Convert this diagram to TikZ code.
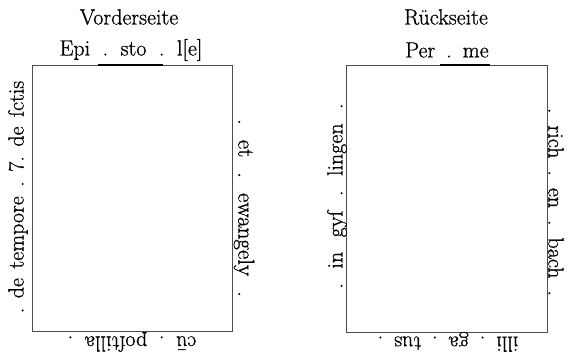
\documentclass[tikz,border=0pt]{standalone}
\usepackage{fontspec}
\setmainfont{Latin Modern Roman}[FakeBold=0.8]
\newcommand\gp[1]{\hspace{#1pt}}
\begin{document}
\begin{tikzpicture}[x=1pt,y=-1pt,
  lbl/.style={inner sep=0pt, font=\fontsize{22}{26}\selectfont},
  page/.style={draw=black!70, line width=0.6pt},
  ink/.style={draw=black, line width=1.1pt}]
\useasboundingbox (0,0) rectangle (574,356);
% boxes
\node[page, minimum width=200pt, minimum height=266pt, inner sep=0pt] (front) at (132,198) {};
\node[page, minimum width=201pt, minimum height=267pt, inner sep=0pt] (back) at (446.5,198.5) {};
% darker strokes on top edges
\coordinate (fa) at (98,65); \coordinate (fb) at (163,65);
\coordinate (ba) at (440,65); \coordinate (bb) at (490,65);
\draw[ink] (fa) -- (fb);
\draw[ink] (ba) -- (bb);
% headings
\node[lbl] (vs) at (129,17) {Vorderseite};
\node[lbl] (rs) at (446,17) {Rückseite};
\node[lbl] (ftop) at (131,50) {Epi\gp{12.5}.\gp{12.5}sto\gp{12.5}.\gp{12.5}l[e]};
\node[lbl] (btop) at (447,50) {Per\gp{11}.\gp{11}me};
% front sides
\node[lbl, rotate=90] (fleft) at (18,197) {.\gp{9.5}de\gp{9.5}tempore\gp{9.5}.\gp{9.5}7.\gp{9.5}de\gp{9.5}ſctis};
\node[lbl, rotate=-90, font=\fontsize{23}{26}\selectfont] (fright) at (244,208) {.\gp{15}et\gp{15}.\gp{15}ewangely\gp{15}.};
\node[lbl, rotate=180] (fbot) at (132,342) {cū\gp{11.7}.\gp{11.7}poſtilla\gp{11.7}.};
% back sides
\node[lbl, rotate=90] (bleft) at (337,196) {.\gp{14.5}in\gp{14.5}gyſ\gp{14.5}.\gp{14.5}lingen\gp{14.5}.};
\node[lbl, rotate=-90] (bright) at (556,202) {.\gp{12}rich\gp{12}.\gp{12}en\gp{12}.\gp{12}bach\gp{12}.};
\node[lbl, rotate=180] (bbot) at (448,342) {illi\gp{11}.\gp{11}ga\gp{11}.\gp{11}tus\gp{11}.};
\end{tikzpicture}
\end{document}
